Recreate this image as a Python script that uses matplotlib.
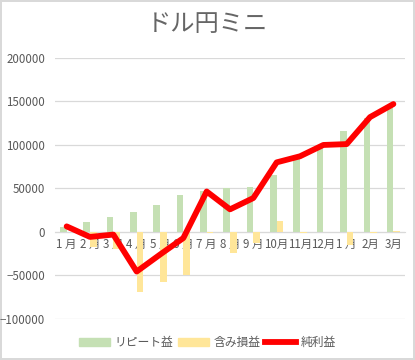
import matplotlib.pyplot as plt
import numpy as np
from matplotlib.patches import Patch
from matplotlib.lines import Line2D

plt.rcParams['font.family'] = ['Noto Sans CJK JP', 'DejaVu Sans']

# ── data ────────────────────────────────────────────────────
months = ['1 月', '2 月', '3 月', '4 月', '5 月', '6 月', '7 月', '8 月',
          '9 月', '10月', '11月', '12月', '1 月', '2月', '3月']
repeat = [6000, 12000, 17500, 23000, 31500, 42000, 47000, 50000,
          52000, 66000, 85000, 97000, 116500, 131000, 145000]
unreal = [0, -17000, -20000, -69000, -58000, -50000, -1000, -24000,
          -13000, 13000, -1000, 0, -15000, -1000, 1500]
net = [6400, -5700, -3000, -45500, -26000, -7000, 46500, 26000,
       39000, 80000, 87000, 100000, 101000, 132000, 147000]

GREEN = '#C5E0B4'
YELLOW = '#FFE699'
RED = '#FF0000'
GREY = '#595959'

fig = plt.figure(figsize=(4.15, 3.6), dpi=100)
fig.patch.set_edgecolor('#D9D9D9')
fig.patch.set_linewidth(1.5)
ax = fig.add_axes([0.1325, 0.114, 0.8435, 0.725])

x = np.arange(len(months))
w = 0.28
ax.bar(x - w / 2, repeat, w, color=GREEN, zorder=2)
ax.bar(x + w / 2, unreal, w, color=YELLOW, zorder=2)
ax.plot(x, net, color=RED, linewidth=4.2, solid_capstyle='round',
        solid_joinstyle='round', zorder=3)

ax.set_xlim(-0.5, len(months) - 0.5)
ax.set_ylim(-100000, 200000)
ax.set_yticks(np.arange(-100000, 200001, 50000))
ax.yaxis.grid(True, color='#D9D9D9', linewidth=0.9, zorder=0)
ax.set_axisbelow(True)
for s in ['top', 'right', 'left']:
    ax.spines[s].set_visible(False)
ax.spines['bottom'].set_position(('data', 0))
ax.spines['bottom'].set_color('#D9D9D9')
ax.spines['bottom'].set_zorder(1)
ax.set_xticks(x)
ax.set_xticklabels(months)
ax.tick_params(axis='both', length=0, colors=GREY, labelsize=8.3)
ax.tick_params(axis='x', pad=4)
ax.tick_params(axis='y', pad=7)

fig.suptitle('ドル円ミニ', x=0.5, y=0.97, fontsize=17.5, color='#666666')

handles = [Patch(color=GREEN), Patch(color=YELLOW),
           Line2D([0], [0], color=RED, linewidth=4.2)]
fig.legend(handles, ['リピート益', '含み損益', '純利益'], loc='center',
           bbox_to_anchor=(0.5, 0.048), ncol=3, frameon=False, fontsize=8.5,
           labelcolor=GREY, handlelength=2.6, handleheight=0.6,
           columnspacing=0.4, handletextpad=0.4)

plt.savefig('out.png', dpi=100)
